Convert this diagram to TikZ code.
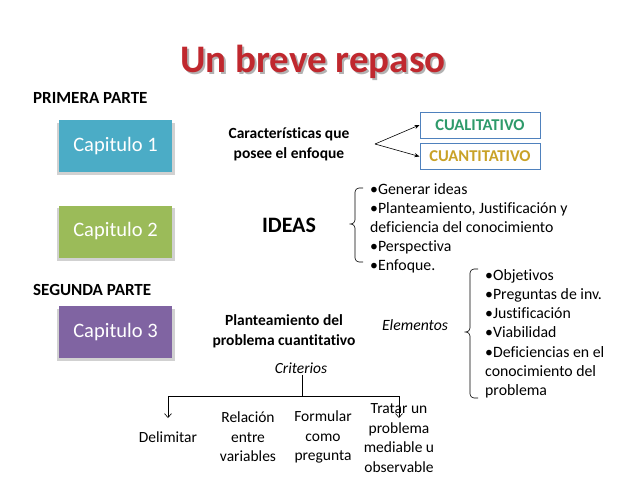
\documentclass[tikz,border=0pt]{standalone}
\usepackage{fontspec}
\setmainfont{Carlito}[Ligatures=CommonOff]
\usetikzlibrary{arrows.meta}
\definecolor{titlered}{HTML}{C0282E}
\definecolor{cteal}{HTML}{4BACC6}
\definecolor{cgreen}{HTML}{9BBB59}
\definecolor{cpurple}{HTML}{8064A2}
\definecolor{qborder}{HTML}{4F81BD}
\definecolor{qgreen}{HTML}{2E9A6A}
\definecolor{qgold}{HTML}{C9A227}
\tikzset{
  chap/.style={minimum width=113pt, minimum height=52pt, inner sep=0pt, text=white, font=\fontsize{20.5}{22}\selectfont},
  shadowbox/.style={fill=black!18},
  qbox/.style={draw=qborder, line width=1pt, fill=white, minimum width=120pt, minimum height=26pt, inner sep=0pt, font=\bfseries\fontsize{16.5}{17}\selectfont},
  hdr/.style={font=\bfseries\fontsize{17}{18}\selectfont, anchor=west, inner sep=0pt},
  lbl/.style={font=\bfseries\fontsize{15.5}{20}\selectfont, align=center},
  item/.style={font=\fontsize{15.8}{16}\selectfont, anchor=base west, inner sep=0pt},
  crit/.style={font=\fontsize{15.5}{19.5}\selectfont, align=center, inner sep=0pt},
  conn/.style={-{Stealth[length=5pt,width=4pt]}, line width=0.6pt},
  brace/.style={line width=0.6pt, rounded corners=4pt}
}
\begin{document}
\begin{tikzpicture}[x=1pt,y=-1pt]
\useasboundingbox (0,0) rectangle (638,479);
\fill[white] (0,0) rectangle (638,479);
% title
\node[text=black!30, font=\bfseries\fontsize{39}{42}\selectfont] (titleshadow) at (315,64) {Un breve repaso};
\node[text=titlered, font=\bfseries\fontsize{39}{42}\selectfont] (title) at (313,62) {Un breve repaso};
% headers
\node[hdr] (prim) at (33,98) {PRIMERA PARTE};
\node[hdr] (seg) at (33,290) {SEGUNDA PARTE};
% chapter boxes with shadows
\fill[shadowbox] (57,123) rectangle (175,175);
\node[chap, fill=cteal] (c1) at (115.5,146) {Capitulo 1};
\fill[shadowbox] (57,208) rectangle (175,261);
\node[chap, fill=cgreen] (c2) at (115.5,231.5) {Capitulo 2};
\fill[shadowbox] (57,309) rectangle (175,361);
\node[chap, fill=cpurple] (c3) at (115.5,332) {Capitulo 3};
% características
\node[lbl] (car) at (289,144) {Características que\\posee el enfoque};
\coordinate (carpt) at (375,144);
\node[qbox, text=qgreen] (cual) at (480,125) {CUALITATIVO};
\node[qbox, text=qgold] (cuan) at (480,156.5) {CUANTITATIVO};
\draw[conn] (carpt) -- (cual.west);
\draw[conn] (carpt) -- (cuan.west);
% ideas
\node[font=\bfseries\fontsize{22}{24}\selectfont] (ideas) at (289,225) {IDEAS};
\draw[brace] (363,188) -- (355,188) -- (355,224) -- (348,224) -- (355,224) -- (355,262) -- (363,262);
\node[item] (i1) at (370,194) {•Generar ideas};
\node[item] (i2) at (370,213) {•Planteamiento, Justificación y};
\node[item] (i3) at (370,232) {deficiencia del conocimiento};
\node[item] (i4) at (370,251) {•Perspectiva};
\node[item] (i5) at (370,270) {•Enfoque.};
% planteamiento
\node[lbl] (plan) at (284,331) {Planteamiento del\\problema cuantitativo};
\node[font=\itshape\fontsize{15.7}{16}\selectfont] (elem) at (415,325) {Elementos};
\draw[brace] (478,269) -- (470,269) -- (470,332) -- (463,332) -- (470,332) -- (470,398) -- (478,398);
\node[item] (e1) at (485,280) {•Objetivos};
\node[item] (e2) at (485,299) {•Preguntas de inv.};
\node[item] (e3) at (485,318) {•Justificación};
\node[item] (e4) at (485,337) {•Viabilidad};
\node[item] (e5) at (485,357) {•Deficiencias en el};
\node[item] (e6) at (485,376) {conocimiento del};
\node[item] (e7) at (485,395) {problema};
% criterios
\node[font=\itshape\fontsize{15.5}{16}\selectfont, inner sep=1pt] (crit) at (301,368) {Criterios};
\coordinate (junc) at (302,396);
\coordinate (lft) at (168,396);
\coordinate (rgt) at (399,396);
\node[crit] (delim) at (168,437) {Delimitar};
\node[crit] (rel) at (248,437) {Relación\\entre\\variables};
\node[crit] (form) at (323,437) {Formular\\como\\pregunta};
\node[crit] (trat) at (399,438) {Tratar un\\problema\\mediable u\\observable};
\draw[line width=0.6pt] (crit.south -| junc) -- (junc);
\draw[line width=0.6pt] (lft) -- (rgt);
\coordinate (lftend) at (168,418);
\coordinate (rgtend) at (399,418);
\draw[line width=0.6pt, -{Straight Barb[length=4pt,width=7pt]}] (lft) -- (lftend);
\draw[line width=0.6pt, -{Straight Barb[length=4pt,width=7pt]}] (rgt) -- (rgtend);
\end{tikzpicture}
\end{document}
